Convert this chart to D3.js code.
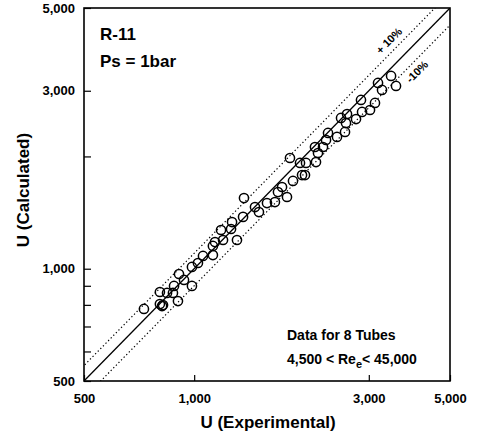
<!DOCTYPE html>
<html>
<head>
<meta charset="utf-8">
<script src="https://cdn.jsdelivr.net/npm/d3@7"></script>
<style>
  body { margin: 0; background: #fff; }
  svg { display: block; font-family: "Liberation Sans", Arial, Helvetica, sans-serif; }
  .tick text { font-size: 13px; font-weight: bold; fill: #000; }
  .tick line { stroke: #000; stroke-width: 1.2; }
</style>
</head>
<body>
<svg id="chart" width="478" height="435"></svg>
<script>
// measured U values (experimental) and predicted U values (calculated)
const uExp = [729, 806, 817, 822, 806, 843, 875, 881, 903, 909, 938, 986, 986, 1024, 1057,
  1125, 1125, 1140, 1184, 1199, 1261, 1269, 1309, 1360, 1368, 1466, 1503, 1581, 1662, 1694,
  1738, 1793, 1827, 1862, 1946, 1971, 2008, 2021, 2152, 2179, 2138, 2249, 2292, 2321, 2456,
  2583, 2599, 2519, 2616, 2768, 2875, 3023, 2856, 3119, 3179, 3260, 3451, 3560];
const uCalc = [780, 804, 794, 799, 866, 861, 861, 899, 819, 968, 933, 899, 1011, 1036, 1082,
  1088, 1151, 1179, 1270, 1194, 1278, 1334, 1194, 1377, 1547, 1463, 1419, 1500, 1509, 1605,
  1656, 1557, 1981, 1719, 1921, 1783, 1783, 1921, 1932, 2043, 2120, 2120, 2214, 2312, 2256,
  2326, 2458, 2536, 2599, 2519, 2632, 2664, 2834, 2782, 3148, 3015, 3287, 3091];

const domainU = [500, 5000];
const xMajor = [500, 1000, 3000, 5000];
const yMajor = [500, 1000, 3000, 5000];
const yMinor = [600, 700, 800, 900, 2000];
const bandFactors = [1.1, 0.9];
const bandLabels = ['+ 10%', '-10%'];

const margin = { top: 8, right: 28, bottom: 54, left: 84 };
const W = 478 - margin.left - margin.right;
const H = 435 - margin.top - margin.bottom;

const svg = d3.select('#chart');
const g = svg.append('g').attr('transform', `translate(${margin.left},${margin.top})`);

const x = d3.scaleLog().domain(domainU).range([0, W]);
const y = d3.scaleLog().domain(domainU).range([H, 0]);

g.append('clipPath').attr('id', 'clip')
  .append('rect').attr('width', W).attr('height', H);

const plot = g.append('g').attr('clip-path', 'url(#clip)');

// perfect agreement line
plot.append('line')
    .attr('x1', x(500)).attr('y1', y(500))
    .attr('x2', x(5000)).attr('y2', y(5000))
    .attr('stroke', '#000').attr('stroke-width', 1.3);

// +/- 10% lines
bandFactors.forEach(f => {
  plot.append('line')
      .attr('x1', x(400)).attr('y1', y(400 * f))
      .attr('x2', x(6000)).attr('y2', y(6000 * f))
      .attr('stroke', '#000').attr('stroke-width', 1.2)
      .attr('stroke-dasharray', '1.3,2.4');
});

// band labels, rotated along the lines
const ang = -Math.atan((y(500) - y(5000)) / (x(5000) - x(500))) * 180 / Math.PI;
const labelAt = [3560, 3900];
const labelDy = [-6, 13];
bandFactors.forEach((f, i) => {
  const px = x(labelAt[i]), py = y(labelAt[i] * f);
  g.append('text')
      .attr('transform', `translate(${px},${py}) rotate(${ang})`)
      .attr('dy', labelDy[i])
      .attr('text-anchor', 'middle')
      .attr('font-size', 11).attr('font-weight', 'bold')
      .text(bandLabels[i]);
});

// data points
plot.selectAll('circle')
  .data(uExp.map((d, i) => [d, uCalc[i]]))
  .join('circle')
    .attr('cx', d => x(d[0])).attr('cy', d => y(d[1]))
    .attr('r', 4.6)
    .attr('fill', 'none').attr('stroke', '#000').attr('stroke-width', 1.5);

// axes
const fmt = d3.format(',');
g.append('g').attr('transform', `translate(0,${H})`)
  .call(d3.axisBottom(x).tickValues(xMajor).tickFormat(fmt)
    .tickSizeInner(-6).tickSizeOuter(0).tickPadding(13))
  .call(a => a.select('.domain').remove());

g.append('g')
  .call(d3.axisLeft(y).tickValues(yMajor).tickFormat(fmt)
    .tickSizeInner(-7).tickSizeOuter(0).tickPadding(9))
  .call(a => a.select('.domain').remove());

g.append('g')
  .call(d3.axisLeft(y).tickValues(yMinor).tickFormat('')
    .tickSizeInner(-7).tickSizeOuter(0))
  .call(a => a.select('.domain').remove());

// frame
g.append('rect')
    .attr('width', W).attr('height', H)
    .attr('fill', 'none').attr('stroke', '#000').attr('stroke-width', 1.6);

// axis titles
svg.append('text')
    .attr('x', 268).attr('y', 428)
    .attr('text-anchor', 'middle')
    .attr('font-size', 17).attr('font-weight', 'bold')
    .text('U (Experimental)');

svg.append('text')
    .attr('transform', 'translate(29,190) rotate(-90)')
    .attr('text-anchor', 'middle')
    .attr('font-size', 17).attr('font-weight', 'bold')
    .text('U (Calculated)');

// annotations
g.append('text').attr('x', 16).attr('y', 32)
    .attr('font-size', 17).attr('font-weight', 'bold').text('R-11');
g.append('text').attr('x', 16).attr('y', 59)
    .attr('font-size', 17).attr('font-weight', 'bold').text('Ps = 1bar');

g.append('text').attr('x', 203).attr('y', 332)
    .attr('font-size', 14).attr('font-weight', 'bold').text('Data for 8 Tubes');
const t2 = g.append('text').attr('x', 203).attr('y', 356)
    .attr('font-size', 14).attr('font-weight', 'bold');
t2.append('tspan').text('4,500 < Re');
t2.append('tspan').attr('dy', 4).attr('font-size', 11).text('e');
t2.append('tspan').attr('dy', -4).text('< 45,000');
</script>
</body>
</html>
